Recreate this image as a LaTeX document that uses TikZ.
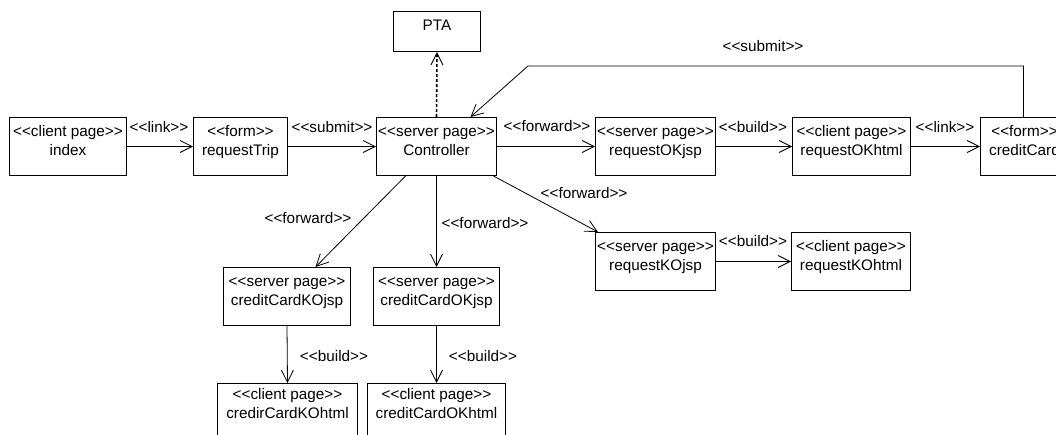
\documentclass[tikz,border=0pt]{standalone}
\usepackage{fontspec}
\setmainfont{Liberation Sans}
\usetikzlibrary{arrows.meta,calc}
\newcommand\sterg[1]{<\kern0pt<#1>\kern0pt>}
\begin{document}
\begin{tikzpicture}[x=1pt,y=-1pt,
  font=\fontsize{15.3}{19}\selectfont,
  box/.style={draw, line width=1pt, rectangle, inner sep=0pt, anchor=north west},
  txt/.style={align=center, inner sep=0pt, anchor=north},
  lab/.style={inner sep=0pt, anchor=base},
  arr/.style={line width=0.8pt, -{Straight Barb[length=12pt,width=12pt,line width=0.8pt]}},
  dep/.style={line width=1.6pt, dash pattern=on 3pt off 2pt, -{Straight Barb[length=12pt,width=12pt,line width=0.9pt]}}
]
\clip (0,0) rectangle (1056,434);
\fill[white] (0,0) rectangle (1056,434);
% boxes
\node[box, minimum width=117pt, minimum height=58pt] (index) at (9,117) {};
\node[box, minimum width=94pt, minimum height=58pt] (reqtrip) at (193,117) {};
\node[box, minimum width=120pt, minimum height=58pt] (ctrl) at (376,117) {};
\node[box, minimum width=87pt, minimum height=40pt] (pta) at (393,11) {};
\node[box, minimum width=120pt, minimum height=58pt] (okjsp) at (595,117) {};
\node[box, minimum width=118pt, minimum height=58pt] (okhtml) at (792,117) {};
\node[box, minimum width=88pt, minimum height=58pt] (cc) at (980,117) {};
\node[box, minimum width=127pt, minimum height=58pt] (cckojsp) at (223,267) {};
\node[box, minimum width=126pt, minimum height=58pt] (ccokjsp) at (373,267) {};
\node[box, minimum width=140pt, minimum height=70pt] (cckohtml) at (217,383) {};
\node[box, minimum width=138pt, minimum height=70pt] (ccokhtml) at (367,383) {};
\node[box, minimum width=120pt, minimum height=58pt] (kojsp) at (595,232) {};
\node[box, minimum width=119pt, minimum height=58pt] (kohtml) at (791,232) {};
% box texts
\node[txt] (index-t) at ([yshift=-5.7pt]index.north) {\strut\sterg{client page}\\\strut index};
\node[txt] (reqtrip-t) at ([yshift=-5.7pt]reqtrip.north) {\strut\sterg{form}\\\strut requestTrip};
\node[txt] (ctrl-t) at ([yshift=-5.7pt]ctrl.north) {\strut\sterg{server page}\\\strut Controller};
\node[txt] (pta-t) at ([yshift=-5.7pt]pta.north) {\strut PTA};
\node[txt] (okjsp-t) at ([yshift=-5.7pt]okjsp.north) {\strut\sterg{server page}\\\strut requestOKjsp};
\node[txt] (okhtml-t) at ([yshift=-5.7pt]okhtml.north) {\strut\sterg{client page}\\\strut requestOKhtml};
\node[txt] (cc-t) at ([yshift=-5.7pt]cc.north) {\strut\sterg{form}\\\strut creditCard};
\node[txt] (cckojsp-t) at ([yshift=-5.7pt]cckojsp.north) {\strut\sterg{server page}\\\strut creditCardKOjsp};
\node[txt] (ccokjsp-t) at ([yshift=-5.7pt]ccokjsp.north) {\strut\sterg{server page}\\\strut creditCardOKjsp};
\node[txt] (cckohtml-t) at ([yshift=-2.7pt]cckohtml.north) {\strut\sterg{client page}\\\strut credirCardKOhtml};
\node[txt] (ccokhtml-t) at ([yshift=-2.7pt]ccokhtml.north) {\strut\sterg{client page}\\\strut creditCardOKhtml};
\node[txt] (kojsp-t) at ([yshift=-5.7pt]kojsp.north) {\strut\sterg{server page}\\\strut requestKOjsp};
\node[txt] (kohtml-t) at ([yshift=-5.7pt]kohtml.north) {\strut\sterg{client page}\\\strut requestKOhtml};
% connectors
\draw[arr] (index.east) -- (reqtrip.west);
\draw[arr] (reqtrip.east) -- (ctrl.west);
\draw[arr] (ctrl.east) -- (okjsp.west);
\draw[arr] (okjsp.east) -- (okhtml.west);
\draw[arr] (okhtml.east) -- (cc.west);
\draw[dep] (ctrl.north) -- (pta.south);
\coordinate (bend) at (528,66);
\draw[arr] ([xshift=-1pt]cc.north) |- (bend) -- ([xshift=34pt]ctrl.north);
\draw[arr] ([xshift=-31pt]ctrl.south) -- ([xshift=28.5pt]cckojsp.north);
\draw[arr] (ctrl.south) -- (ccokjsp.north);
\draw[arr] ([xshift=57pt]ctrl.south) -- ([xshift=3pt]kojsp.north west);
\draw[arr] (kojsp.east) -- (kohtml.west);
\draw[arr] (cckojsp.south) -- (cckohtml.north);
\draw[arr] (ccokjsp.south) -- (ccokhtml.north);
% labels
\node[lab] (l1) at (159,132) {\sterg{link}};
\node[lab] (l2) at (332,132) {\sterg{submit}};
\node[lab] (l3) at (547,131) {\sterg{forward}};
\node[lab] (l4) at (753,132) {\sterg{build}};
\node[lab] (l5) at (945,132) {\sterg{link}};
\node[lab] (l6) at (763,51) {\sterg{submit}};
\node[lab] (l7) at (308,223) {\sterg{forward}};
\node[lab] (l8) at (485,228) {\sterg{forward}};
\node[lab] (l9) at (584,198) {\sterg{forward}};
\node[lab] (l10) at (753,246) {\sterg{build}};
\node[lab] (l11) at (334,361) {\sterg{build}};
\node[lab] (l12) at (483,361) {\sterg{build}};
\end{tikzpicture}
\end{document}
